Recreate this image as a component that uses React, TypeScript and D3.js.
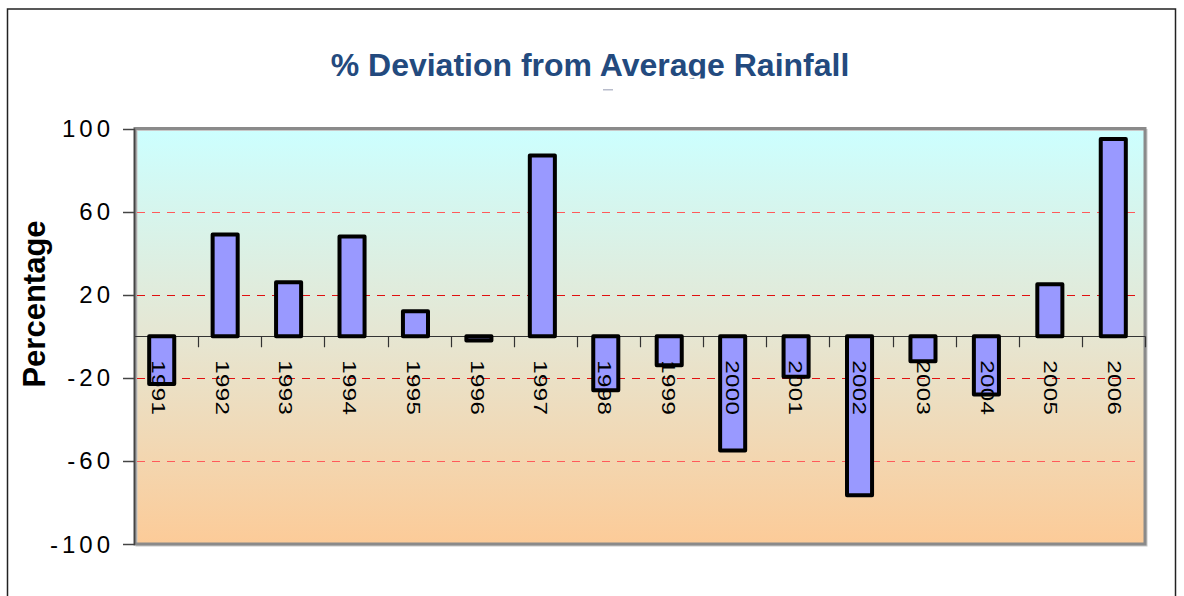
import React from "react";
import * as d3 from "d3";

// Rainfall deviation per year (% from long-term average)
const years = ["1991", "1992", "1993", "1994", "1995", "1996", "1997", "1998", "1999", "2000", "2001", "2002", "2003", "2004", "2005", "2006"];
const deviation = [-23, 49, 26, 48, 12, -2, 87, -26, -14, -55, -19.5, -76.5, -12, -28, 25, 95];
const yTicks = [100, 60, 20, -20, -60, -100];
const gridValues = [60, 20, -20, -60];

const W = 1184;
const H = 596;
const plot = { left: 135, right: 1145, top: 128.5, bottom: 544 };
const font = "'Liberation Sans', Arial, Helvetica, sans-serif";

// snap a horizontal hairline onto the pixel grid
const crisp = (v: number) => Math.round(v) + 0.5;

export default function App() {
  const y = d3.scaleLinear().domain([-100, 100]).range([plot.bottom, plot.top]);
  // category axis ticks sit on band boundaries
  const xAxis = d3.scaleBand<string>().domain(years).range([plot.left, plot.right]);
  const xBars = d3.scaleBand<string>().domain(years).range([130, 1145]);
  const xLabels = d3.scaleBand<string>().domain(years).range([126, 1146]);
  const barW = xBars.bandwidth() * 0.395;
  const y0 = y(0);

  const gridColor = (v: number) => (Math.abs(v) === 60 ? "#ff5a5a" : "#e01010");

  return (
    <svg width={W} height={H} style={{ position: "absolute", left: 0, top: 0 }} fontFamily={font}>
      <defs>
        <linearGradient id="bg" x1="0" y1="0" x2="0" y2="1">
          <stop offset="0%" stopColor="#ccffff" />
          <stop offset="50%" stopColor="#e6e6d2" />
          <stop offset="100%" stopColor="#fccb98" />
        </linearGradient>
        <clipPath id="titleClip">
          <rect x={0} y={0} width={W} height={78.5} />
        </clipPath>
      </defs>

      <rect x={0} y={0} width={W} height={H} fill="#fff" />
      {/* outer frame */}
      <rect x={7.5} y={9} width={1168} height={700} fill="none" stroke="#222" strokeWidth={1.5} />

      {/* title */}
      <text
        x={590}
        y={76}
        textAnchor="middle"
        fontSize={32}
        fontWeight="bold"
        fill="#234a7e"
        clipPath="url(#titleClip)"
      >
        % Deviation from Average Rainfall
      </text>
      <rect x={603} y={89} width={10} height={1.5} fill="#b8bccb" />

      {/* plot background */}
      <rect
        x={plot.left}
        y={plot.top}
        width={plot.right - plot.left}
        height={plot.bottom - plot.top}
        fill="url(#bg)"
      />
      {/* soft shadow of plot frame */}
      <rect
        x={plot.left + 1.5}
        y={plot.top + 1.5}
        width={plot.right - plot.left}
        height={plot.bottom - plot.top}
        fill="none"
        stroke="#c8c8c8"
        strokeWidth={2}
      />
      <rect
        x={plot.left}
        y={plot.top}
        width={plot.right - plot.left}
        height={plot.bottom - plot.top}
        fill="none"
        stroke="#8a8a8a"
        strokeWidth={3}
      />

      {/* gridlines */}
      {gridValues.map((v) => (
        <line
          key={v}
          x1={plot.left + 2}
          x2={plot.right - 3}
          y1={crisp(y(v))}
          y2={crisp(y(v))}
          stroke={gridColor(v)}
          strokeWidth={1}
          strokeDasharray="8,7"
        />
      ))}

      {/* zero line and category ticks */}
      <line x1={plot.left} x2={plot.right} y1={crisp(y0)} y2={crisp(y0)} stroke="#333" strokeWidth={1.2} />
      {years.map((yr) => {
        const tx = Math.round((xAxis(yr) as number) + xAxis.bandwidth()) + 0.5;
        return <line key={yr} x1={tx} x2={tx} y1={y0} y2={y0 + 11} stroke="#333" strokeWidth={1.2} />;
      })}

      {/* value axis */}
      <line x1={plot.left - 0.5} x2={plot.left - 0.5} y1={plot.top} y2={plot.bottom + 1} stroke="#444" strokeWidth={1.5} />
      {yTicks.map((t) => (
        <g key={t}>
          <line x1={plot.left - 12} x2={plot.left} y1={crisp(y(t))} y2={crisp(y(t))} stroke="#444" strokeWidth={1.5} />
          <text
            x={114}
            y={y(t)}
            textAnchor="end"
            dominantBaseline="central"
            fontSize={24}
            letterSpacing={4}
            fill="#000"
          >
            {t}
          </text>
        </g>
      ))}

      {/* bars */}
      {years.map((yr, i) => {
        const v = deviation[i];
        const cx = (xBars(yr) as number) + xBars.bandwidth() / 2;
        const top = Math.min(y(v), y0);
        const h = Math.abs(y(v) - y0);
        return (
          <rect
            key={yr}
            x={cx - barW / 2}
            y={top}
            width={barW}
            height={h}
            fill="#9999ff"
            stroke="#000"
            strokeWidth={4}
            strokeLinejoin="round"
          />
        );
      })}

      {/* year labels, stretched along the reading direction */}
      {years.map((yr) => {
        const cx = (xLabels(yr) as number) + xLabels.bandwidth() / 2;
        return (
          <text
            key={yr}
            transform={`translate(${cx},${y0 + 24}) rotate(90) scale(1.3,1)`}
            dominantBaseline="central"
            fontSize={18.5}
            letterSpacing={0.3}
            fill="#000"
          >
            {yr}
          </text>
        );
      })}

      {/* axis title */}
      <text
        transform={`translate(45,304) rotate(-90)`}
        textAnchor="middle"
        fontSize={31}
        fontWeight="bold"
        fill="#000"
      >
        Percentage
      </text>
    </svg>
  );
}
